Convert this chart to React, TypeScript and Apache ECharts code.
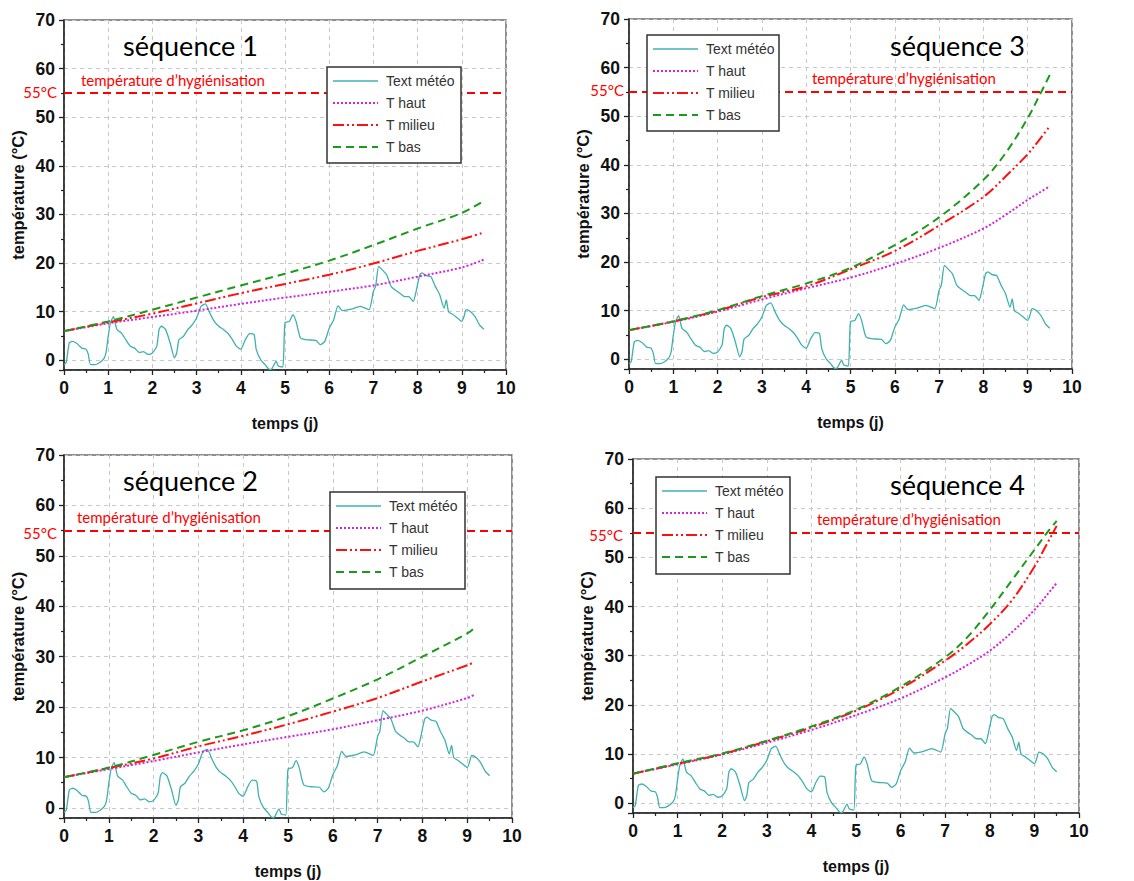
import React, { useEffect, useRef } from "react";
import * as echarts from "echarts";

// ---- Data ----
const meteoT = [0, 0.05, 0.12, 0.2, 0.3, 0.4, 0.5, 0.55, 0.6, 0.7, 0.8, 0.9, 0.95, 1.0, 1.05, 1.12, 1.15, 1.2, 1.3, 1.4, 1.5, 1.6, 1.7, 1.8, 1.9, 2.0, 2.1, 2.15, 2.2, 2.3, 2.4, 2.5, 2.55, 2.6, 2.7, 2.8, 2.9, 3.0, 3.1, 3.2, 3.3, 3.4, 3.5, 3.6, 3.7, 3.8, 3.9, 4.0, 4.1, 4.2, 4.3, 4.35, 4.45, 4.55, 4.65, 4.7, 4.8, 4.85, 4.95, 5.0, 5.1, 5.18, 5.25, 5.35, 5.5, 5.7, 5.8, 5.9, 6.0, 6.1, 6.2, 6.3, 6.5, 6.7, 6.9, 7.0, 7.05, 7.12, 7.2, 7.3, 7.4, 7.5, 7.6, 7.7, 7.8, 7.9, 7.95, 8.05, 8.1, 8.2, 8.3, 8.4, 8.5, 8.6, 8.65, 8.7, 8.8, 8.9, 9.0, 9.05, 9.1, 9.2, 9.3, 9.4, 9.5];
const meteoV = [-0.9, -0.5, 3.6, 3.9, 3.4, 2.5, 2.3, 1.2, -0.9, -0.9, -0.5, 0.3, 1.5, 4.9, 7.7, 9.0, 8.0, 6.3, 5.6, 4.2, 2.9, 2.5, 1.6, 1.8, 1.2, 1.5, 2.9, 6.3, 7.0, 6.3, 3.6, 0.5, 1.5, 4.2, 4.9, 6.3, 7.3, 8.7, 11.1, 11.6, 9.7, 8.0, 7.0, 6.4, 5.6, 4.4, 2.9, 2.3, 4.2, 5.5, 5.3, 2.2, 0.1, -0.9, -1.9, -1.8, -0.2, -1.2, -1.4, 7.7, 8.0, 9.4, 8.0, 4.6, 4.2, 4.1, 3.2, 3.9, 6.6, 8.3, 11.2, 10.2, 10.5, 11.1, 10.4, 14.2, 15.2, 19.3, 18.6, 17.6, 15.2, 14.4, 13.8, 13.1, 13.1, 12.1, 13.5, 17.6, 18.0, 17.4, 17.2, 15.2, 13.5, 10.7, 12.4, 10.0, 9.4, 8.7, 8.0, 9.0, 10.4, 10.0, 9.0, 7.3, 6.4];

// séquence 1
const t1 = [0, 1, 2, 3, 4, 5, 6, 7, 8, 9, 9.5];
const haut1 = [6.0, 7.6, 8.9, 10.2, 11.6, 12.9, 14.1, 15.4, 17.2, 19.1, 20.7];
const milieu1 = [6.0, 7.8, 9.6, 11.7, 13.8, 15.7, 17.6, 19.9, 22.5, 24.9, 26.3];
const bas1 = [6.0, 8.0, 10.4, 12.9, 15.4, 17.8, 20.5, 23.7, 27.1, 30.3, 32.8];

// séquence 2
const t2 = [0, 1, 2, 3, 4, 5, 6, 7, 8, 9, 9.15];
const haut2 = [6.1, 7.7, 9.3, 11.0, 12.6, 14.1, 15.6, 17.4, 19.3, 21.8, 22.4];
const milieu2 = [6.1, 7.9, 9.8, 12.2, 14.3, 16.6, 19.1, 21.8, 25.1, 28.3, 28.9];
const bas2 = [6.1, 8.0, 10.5, 13.1, 15.4, 18.2, 21.7, 25.5, 30.0, 34.6, 35.6];

// séquence 3
const t3 = [0, 1, 2, 3, 4, 5, 6, 7, 8, 8.5, 9, 9.25, 9.5];
const haut3 = [6.0, 7.7, 9.8, 12.3, 14.6, 16.8, 19.6, 22.9, 26.9, 29.7, 32.8, 34.2, 35.6];
const milieu3 = [6.0, 7.8, 10.0, 12.8, 15.0, 18.5, 22.3, 27.5, 33.4, 37.6, 42.2, 45.0, 48.0];
const bas3 = [6.0, 7.8, 10.1, 13.0, 15.6, 18.8, 23.5, 29.2, 36.9, 42.4, 49.6, 54.0, 58.5];

// séquence 4
const t4 = [0, 1, 2, 3, 4, 5, 6, 7, 7.5, 8, 8.5, 9, 9.25, 9.5];
const haut4 = [6.0, 7.9, 9.9, 12.3, 14.9, 17.9, 21.3, 25.6, 28.1, 31.0, 34.8, 39.3, 42.0, 44.8];
const milieu4 = [6.0, 8.0, 10.0, 12.6, 15.4, 18.8, 23.3, 29.0, 32.4, 36.4, 41.3, 48.1, 52.2, 56.4];
const bas4 = [6.0, 8.1, 10.1, 12.7, 15.6, 19.0, 23.7, 29.7, 33.8, 39.3, 45.4, 51.5, 54.6, 57.4];

const seuil = 55;
const legendNames = ["Text météo", "T haut", "T milieu", "T bas"];
const panelTitles = ["séquence 1", "séquence 3", "séquence 2", "séquence 4"];

// ---- styles ----
const C_TEAL = "#3fb0b0";
const C_MAG = "#d522dc";
const C_RED = "#ff1010";
const C_GREEN = "#1c9a1c";
const lineStyles = [
  { color: C_TEAL, width: 1.3, type: "solid" as any },
  { color: C_MAG, width: 2, type: [2, 2] },
  { color: C_RED, width: 2, type: [11, 3, 2, 3, 2, 3] },
  { color: C_GREEN, width: 2, type: [8, 5] },
];

const panels = [
  { t: t1, haut: haut1, milieu: milieu1, bas: bas1, grid: { left: 64, top: 20, width: 442, height: 350 },
    title: [123, 49], hyg: [81, 82], c55: [57, 92], legend: [327, 67, 134, 96] },
  { t: t3, haut: haut3, milieu: milieu3, bas: bas3, grid: { left: 629, top: 19, width: 443, height: 350 },
    title: [890, 49], hyg: [812, 80], c55: [624, 90], legend: [647, 35, 132, 96] },
  { t: t2, haut: haut2, milieu: milieu2, bas: bas2, grid: { left: 64, top: 455, width: 448, height: 363 },
    title: [123, 484], hyg: [77, 519], c55: [57, 533], legend: [330, 492, 135, 97] },
  { t: t4, haut: haut4, milieu: milieu4, bas: bas4, grid: { left: 633, top: 459, width: 446, height: 354 },
    title: [890, 488], hyg: [817, 521], c55: [623, 535], legend: [656, 477, 134, 97] },
];

const zip = (xs: number[], ys: number[]) => xs.map((x, i) => [x, ys[i]]);

export default function App() {
  const ref = useRef<HTMLDivElement>(null);
  useEffect(() => {
    if (!ref.current) return;
    const chart = echarts.init(ref.current, null, { renderer: "svg" });

    const grids: any[] = [];
    const xAxes: any[] = [];
    const yAxes: any[] = [];
    const series: any[] = [];
    const graphics: any[] = [];

    panels.forEach((p, i) => {
      grids.push({ ...p.grid, show: true, borderColor: "#6a6a6a", borderWidth: 1.5, backgroundColor: "#fff" });
      xAxes.push({
        type: "value", gridIndex: i, min: 0, max: 10, interval: 1,
        name: "temps (j)", nameLocation: "middle", nameGap: 45,
        nameTextStyle: { fontFamily: "Liberation Sans", fontWeight: "bold", fontSize: 16, color: "#111" },
        axisLine: { show: true, onZero: false, lineStyle: { color: "#222", width: 1.5 } },
        axisTick: { show: true, length: 5, lineStyle: { color: "#222", width: 1.3 } },
        minorTick: { show: true, splitNumber: 2, length: 3, lineStyle: { color: "#222", width: 1.2 } },
        axisLabel: { fontFamily: "Liberation Sans", fontWeight: "bold", fontSize: 17.5, color: "#111", margin: 9 },
        splitLine: { show: true, lineStyle: { color: "#c8c8c8", type: [4, 4], width: 1 } },
      });
      yAxes.push({
        type: "value", gridIndex: i, min: -2, max: 70, minInterval: 10, maxInterval: 10, splitNumber: 7,
        name: "température (°C)", nameLocation: "middle", nameGap: 38,
        nameTextStyle: { fontFamily: "Liberation Sans", fontWeight: "bold", fontSize: 16.5, color: "#111" },
        axisLine: { show: true, onZero: false, lineStyle: { color: "#222", width: 1.5 } },
        axisTick: { show: true, length: 5, lineStyle: { color: "#222", width: 1.3 } },
        minorTick: { show: true, splitNumber: 2, length: 3, lineStyle: { color: "#222", width: 1.2 } },
        axisLabel: { fontFamily: "Liberation Sans", fontWeight: "bold", fontSize: 17.5, color: "#111", margin: 9, showMinLabel: false },
        splitLine: { show: true, lineStyle: { color: "#c8c8c8", type: [4, 4], width: 1 } },
      });

      const dataSets = [zip(meteoT, meteoV), zip(p.t, p.haut), zip(p.t, p.milieu), zip(p.t, p.bas)];
      dataSets.forEach((d, k) => {
        const s: any = {
          type: "line", name: legendNames[k], xAxisIndex: i, yAxisIndex: i, data: d,
          showSymbol: false, symbol: "none", smooth: k === 0 ? 0.2 : 0.35,
          lineStyle: lineStyles[k], z: 3 + k, silent: true,
        };
        if (k === 0) {
          s.markLine = {
            silent: true, symbol: ["none", "none"], label: { show: false },
            lineStyle: { color: "#ff0000", width: 1.8, type: [8, 5] },
            data: [{ yAxis: seuil }],
          };
        }
        series.push(s);
      });

      // title
      graphics.push({
        type: "text", left: p.title[0], top: p.title[1] - 17, z: 50,
        style: { text: panelTitles[i], font: "27px Lato", fill: "#000" },
      });
      // hygienisation label
      graphics.push({
        type: "text", left: p.hyg[0], top: p.hyg[1] - 10, z: 50,
        style: { text: "température d’hygiénisation", font: "15px Lato", fill: "#ff0000" },
      });
      // 55°C label
      graphics.push({
        type: "text", x: p.c55[0], y: p.c55[1], z: 50,
        style: { text: "55°C", font: "15px Lato", fill: "#ff0000", align: "right", verticalAlign: "middle" },
      });
      // legend box
      const [lx, ly, lw, lh] = p.legend;
      graphics.push({
        type: "rect", x: lx, y: ly, z: 100, shape: { x: 0, y: 0, width: lw, height: lh },
        style: { fill: "#fff", stroke: "#333", lineWidth: 1.5 },
      });
      legendNames.forEach((nm, k) => {
        const ry = ly + 14 + k * 22;
        graphics.push({
          type: "line", z: 101, shape: { x1: lx + 6, y1: ry, x2: lx + 51, y2: ry },
          style: { stroke: lineStyles[k].color, lineWidth: lineStyles[k].width,
            lineDash: k === 0 ? null : (lineStyles[k].type as any) },
        });
        graphics.push({
          type: "text", x: lx + 59, y: ry, z: 101,
          style: { text: nm, font: "14px 'Liberation Sans'", fill: "#333", verticalAlign: "middle" },
        });
      });
    });

    chart.setOption({
      animation: false,
      backgroundColor: "#fff",
      grid: grids,
      xAxis: xAxes,
      yAxis: yAxes,
      series,
      graphic: graphics,
    });
    return () => chart.dispose();
  }, []);

  return (
    <div
      ref={ref}
      style={{ position: "absolute", left: 0, top: 0, width: 1134, height: 881, background: "#fff" }}
    />
  );
}
